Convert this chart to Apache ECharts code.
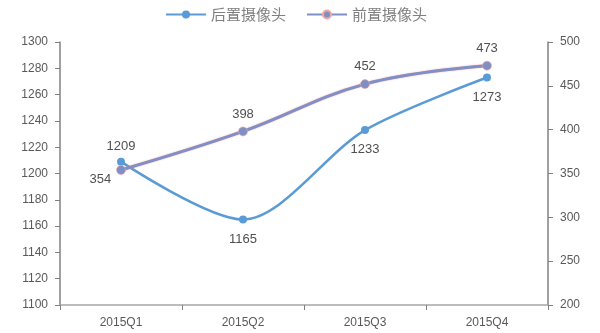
<!DOCTYPE html>
<html><head><meta charset="utf-8">
<script src="https://cdn.jsdelivr.net/npm/echarts@6/dist/echarts.min.js"></script>
<style>html,body{margin:0;padding:0;background:#fff}#c{width:600px;height:333px}</style>
</head><body><div id="c"></div>
<script>
var categories = ['2015Q1','2015Q2','2015Q3','2015Q4'];
var rearCamera = [1209, 1165, 1233, 1273];
var frontCamera = [354, 398, 452, 473];
var leftTicks = {min:1100, max:1300, interval:20};
var rightTicks = {min:200, max:500, interval:50};

var rearLabelPos = ['top','bottom','bottom','bottom'];
var frontLabelPos = ['left','top','top','top'];

var chart = echarts.init(document.getElementById('c'));
var axisTxt = {color:'#595959', fontSize:12, fontFamily:'Liberation Sans, Arial'};
function plain(v){return String(v);}
chart.setOption({
  animation:false,
  legend:{top:2, left:160, itemWidth:40, itemHeight:10, itemGap:20,
    textStyle:{color:'#7f7f7f', fontSize:15, fontFamily:'Noto Sans CJK SC'},
    data:['后置摄像头','前置摄像头']},
  grid:{left:60, right:52, top:42, bottom:28},
  xAxis:{type:'category', data:categories, boundaryGap:true,
    axisLine:{lineStyle:{color:'#a6a6a6', width:1.5}},
    axisTick:{show:true, lineStyle:{color:'#808080'}, length:5},
    axisLabel:Object.assign({margin:12}, axisTxt)},
  yAxis:[
    {type:'value', min:leftTicks.min, max:leftTicks.max, interval:leftTicks.interval,
      axisLine:{show:true, lineStyle:{color:'#808080', width:1.5}},
      axisTick:{show:true, length:5, lineStyle:{color:'#808080'}},
      splitLine:{show:false}, axisLabel:Object.assign({margin:12, formatter:plain}, axisTxt)},
    {type:'value', min:rightTicks.min, max:rightTicks.max, interval:rightTicks.interval,
      axisLine:{show:true, lineStyle:{color:'#808080', width:1.5}},
      axisTick:{show:true, length:5, lineStyle:{color:'#808080'}},
      splitLine:{show:false}, axisLabel:Object.assign({margin:12, formatter:plain}, axisTxt)}
  ],
  series:[
    {name:'后置摄像头', type:'line', smooth:0.3, yAxisIndex:0,
      symbol:'circle', symbolSize:8,
      itemStyle:{color:'#5b9bd5'}, lineStyle:{color:'#5b9bd5', width:2.5},
      data:rearCamera.map(function(v,i){return {value:v, label:{position:rearLabelPos[i], offset:[0, i===0?0:4]}};}),
      label:{show:true, color:'#505050', fontSize:13, fontFamily:'Liberation Sans, Arial'}},
    {name:'前置摄像头', type:'line', smooth:0.4, yAxisIndex:1,
      symbol:'circle', symbolSize:9,
      itemStyle:{color:'#7f8fc4', borderColor:'#f0a8a0', borderWidth:0.6},
      lineStyle:{color:'#8090c6', width:3, shadowColor:'rgba(235,130,130,0.8)', shadowBlur:1.5},
      data:frontCamera.map(function(v,i){return {value:v, label:{position:frontLabelPos[i], offset:[0, i===0?9:-1]}};}),
      label:{show:true, color:'#505050', fontSize:13, fontFamily:'Liberation Sans, Arial'}}
  ]
});
</script></body></html>
